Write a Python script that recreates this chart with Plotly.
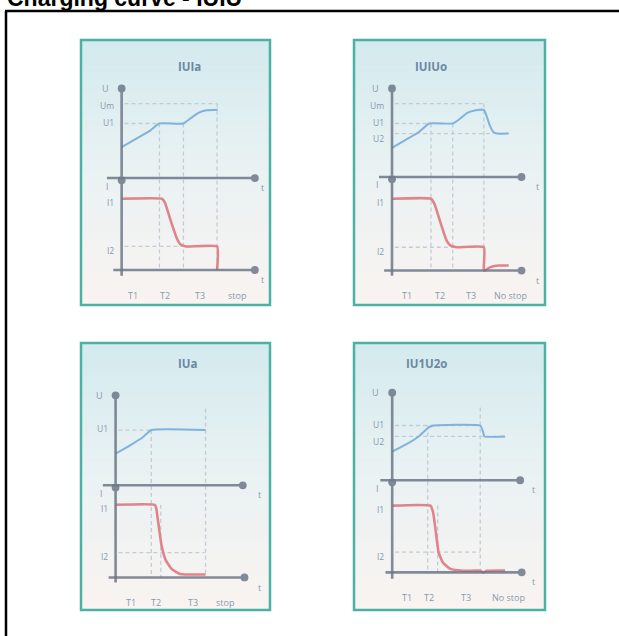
import plotly.graph_objects as go

W, H = 619, 636

# ---------------- data ----------------
fig_title = "Charging curve - IUIU"
panel_titles = ["IUIa", "IUIUo", "IUa", "IU1U2o"]

# voltage curves: time (t-units) and U (arbitrary units)
u_t = [
    [0, 0.78, 1.53, 1.99, 3.27, 3.68, 4.06, 4.49, 5.08],
    [0, 0.69, 1.41, 1.95, 3.18, 3.58, 3.94, 4.39, 4.81, 4.94, 5.12, 5.30, 5.48, 6.11],
    [0, 0.72, 1.44, 1.89, 4.76],
    [0, 0.70, 1.39, 1.91, 2.17, 4.61, 4.75, 4.83, 5.91],
]
u_v = [
    [11.7, 14.9, 18.0, 20.6, 20.6, 22.7, 24.6, 25.6, 25.8],
    [11.0, 13.9, 17.0, 20.2, 20.2, 22.1, 24.2, 25.2, 25.3, 23.3, 19.5, 17.0, 16.4, 16.4],
    [11.9, 14.8, 18.0, 20.7, 20.7],
    [10.7, 13.3, 16.4, 19.8, 20.5, 20.5, 18.3, 16.4, 16.4],
]
# current curves: time (t-units) and I (arbitrary units)
i_t = [
    [0, 2.13, 2.28, 2.62, 2.93, 3.12, 3.40, 5.05, 5.05],
    [0, 2.04, 2.22, 2.53, 2.86, 3.07, 3.40, 4.81, 4.81, 4.94, 5.12, 5.57, 6.11],
    [0, 2.07, 2.15, 2.22, 2.30, 2.43, 2.66, 2.96, 3.41, 4.76],
    [0, 2.00, 2.14, 2.31, 2.43, 2.66, 3.04, 3.74, 4.61, 4.78, 4.96, 5.91],
]
i_v = [
    [26.9, 26.9, 25.6, 18.1, 11.8, 9.6, 8.9, 8.9, 0],
    [27.1, 27.1, 25.2, 18.3, 11.3, 9.4, 8.8, 8.8, 0, 0.3, 1.2, 1.9, 1.9],
    [27.2, 27.2, 26.0, 22.5, 18.4, 12.0, 6.4, 3.2, 1.3, 1.1],
    [25.0, 25.0, 22.5, 13.7, 7.4, 3.6, 1.3, 0.6, 0.6, 0.0, 0.6, 0.7],
]
# voltage levels (name, value, end of dashed guide in t)
u_level_names = [["Um", "U1"], ["Um", "U1", "U2"], ["U1"], ["U1", "U2"]]
u_level_vals = [[28.1, 20.6], [27.7, 20.2, 16.4], [20.7], [20.5, 16.4]]
u_level_end = [[5.05, 2.0], [4.81, 2.04, 5.3], [1.89], [4.61, 5.91]]
# current levels
i_level_names = [["I1", "I2"]] * 4
i_level_vals = [[26.9, 8.9], [27.1, 8.8], [27.2, 9.3], [25.0, 7.6]]
i2_guide_end = [3.2, 4.81, 4.7, 4.61]
# phase boundaries (t) and the top of each dashed marker (axis, value)
vert_t = [[2.0, 3.27, 5.05], [2.04, 3.18, 4.81], [1.89, 2.39, 4.76], [1.86, 2.38, 4.61]]
vert_top = [
    [("U", 20.6), ("U", 20.6), ("U", 28.1)],
    [("U", 20.2), ("U", 20.2), ("U", 27.7)],
    [("U", 20.7), ("I", 27.2), ("U", 28.7)],
    [("U", 20.5), ("I", 25.0), ("U", 27.2)],
]
# time-axis tick labels
tick_text = [
    ["T1", "T2", "T3", "stop"],
    ["T1", "T2", "T3", "No stop"],
    ["T1", "T2", "T3", "stop"],
    ["T1", "T2", "T3", "No stop"],
]
tick_t = [[0.6, 2.3, 4.15, 6.1], [0.8, 2.5, 4.15, 6.2], [0.8, 2.13, 4.1, 5.8], [0.75, 1.95, 3.85, 6.1]]

# ---------------- geometry / style ----------------
geo = [
    dict(rect=(81, 40, 270, 305), ox=0.215, oyU=0.521, oyI=0.868, tu=(-0.86, 7.05), tl=(-0.52, 7.05), utop=33.8, ibot=-2.7, tlab=7.45, ty=0.064),
    dict(rect=(354, 40, 545, 305), ox=0.199, oyU=0.517, oyI=0.870, tu=(-0.76, 6.78), tl=(-0.49, 6.78), utop=33.4, ibot=-2.5, tlab=7.6, ty=0.064),
    dict(rect=(81, 343, 270, 610), ox=0.183, oyU=0.533, oyI=0.878, tu=(-0.75, 6.73), tl=(-0.45, 6.82), utop=33.7, ibot=-2.5, tlab=7.6, ty=0.075),
    dict(rect=(354, 343, 545, 610), ox=0.200, oyU=0.514, oyI=0.859, tu=(-0.70, 6.70), tl=(-0.43, 6.78), utop=32.8, ibot=-3.0, tlab=7.4, ty=0.075),
]
AXIS_COL = "rgba(110,120,136,0.85)"
LAB_COL = "#8799ae"
GUIDE_COL = "#c3ccd5"
BLUE = "#7fb2dc"
RED = "#e0848c"
TEAL = "#4ab1a4"
FONT = "Open Sans"
LAB_NUDGE = {"Um": -0.6, "U1": 0.4, "U2": -2.0}


def lerp(c1, c2, f):
    return tuple(int(round(a + (b - a) * f)) for a, b in zip(c1, c2))


TOP_C, MID_C, BOT_C = (211, 234, 238), (234, 242, 243), (249, 243, 241)

fig = go.Figure()
shapes, annos, axes = [], [], {}

for k in range(4):
    g = geo[k]
    px0, py0, px1, py1 = g["rect"]
    n = k + 1
    xa = "x" if n == 1 else f"x{n}"
    yun, yin = 2 * k + 1, 2 * k + 2
    yu = "y" if yun == 1 else f"y{yun}"
    yi = f"y{yin}"
    ox, oyU, oyI = g["ox"], g["oyU"], g["oyI"]
    off = (oyI - oyU) * 100  # I units -> U units offset

    axes["xaxis" if n == 1 else f"xaxis{n}"] = dict(
        domain=[px0 / W, px1 / W], range=[-ox * 10, (1 - ox) * 10], visible=False, anchor=yu)
    axes["yaxis" if yun == 1 else f"yaxis{yun}"] = dict(
        domain=[1 - py1 / H, 1 - py0 / H], range=[(oyU - 1) * 100, oyU * 100], visible=False, anchor=xa)
    axes[f"yaxis{yin}"] = dict(range=[(oyI - 1) * 100, oyI * 100], visible=False, overlaying=yu, anchor=xa)

    # gradient background
    nb = 40
    for b in range(nb):
        f = (b + 0.5) / nb
        c = lerp(TOP_C, MID_C, f / 0.5) if f < 0.5 else lerp(MID_C, BOT_C, (f - 0.5) / 0.5)
        ya = py0 + (py1 - py0) * b / nb
        yb = py0 + (py1 - py0) * (b + 1) / nb
        shapes.append(dict(type="rect", xref="paper", yref="paper", x0=px0 / W, x1=px1 / W,
                           y0=1 - yb / H - 0.0005, y1=1 - ya / H + 0.0005, line=dict(width=0),
                           fillcolor=f"rgb{c}", layer="below"))
    # border
    shapes.append(dict(type="rect", xref="paper", yref="paper", x0=px0 / W, x1=px1 / W,
                       y0=1 - py1 / H, y1=1 - py0 / H, line=dict(color=TEAL, width=2.5),
                       fillcolor="rgba(0,0,0,0)", layer="above"))

    guide = dict(color=GUIDE_COL, width=1.3, dash="4px,3px")
    # horizontal dashed guides
    for nm, v, e in zip(u_level_names[k], u_level_vals[k], u_level_end[k]):
        shapes.append(dict(type="line", xref=xa, yref=yu, x0=0.15, x1=e, y0=v, y1=v, line=guide, layer="below"))
        annos.append(dict(x=-0.3, y=v + LAB_NUDGE[nm], xref=xa, yref=yu, text=nm, showarrow=False, xanchor="right",
                          font=dict(size=8.5, color=LAB_COL, family=FONT)))
    iv = i_level_vals[k]
    shapes.append(dict(type="line", xref=xa, yref=yi, x0=0.15, x1=i2_guide_end[k], y0=iv[1], y1=iv[1],
                       line=guide, layer="below"))
    for nm, v in zip(i_level_names[k], iv):
        annos.append(dict(x=-0.3, y=v - 1.5, xref=xa, yref=yi, text=nm, showarrow=False, xanchor="right",
                          font=dict(size=8.5, color=LAB_COL, family=FONT)))
    # vertical phase markers
    for t, (axn, top) in zip(vert_t[k], vert_top[k]):
        ytop = top if axn == "U" else top - off
        shapes.append(dict(type="line", xref=xa, yref=yu, x0=t, x1=t, y0=ytop, y1=-off, line=guide, layer="below"))

    # curves
    fig.add_trace(go.Scatter(x=u_t[k], y=u_v[k], xaxis=xa, yaxis=yu, mode="lines",
                             line=dict(color=BLUE, width=2, shape="spline", smoothing=0.4),
                             hoverinfo="skip", showlegend=False))
    fig.add_trace(go.Scatter(x=i_t[k], y=i_v[k], xaxis=xa, yaxis=yi, mode="lines",
                             line=dict(color=RED, width=2.6, shape="spline", smoothing=0.4),
                             hoverinfo="skip", showlegend=False))

    # axes with dot heads
    arrow = dict(showarrow=True, arrowhead=6, arrowsize=0.75, arrowwidth=2.6, arrowcolor=AXIS_COL, text="",
                 standoff=0, startstandoff=0)
    annos.append(dict(arrow, x=g["tu"][1], y=0, ax=g["tu"][0], ay=0, xref=xa, yref=yu, axref=xa, ayref=yu))
    annos.append(dict(arrow, x=0, y=g["utop"], ax=0, ay=0, xref=xa, yref=yu, axref=xa, ayref=yu))
    annos.append(dict(arrow, x=g["tl"][1], y=0, ax=g["tl"][0], ay=0, xref=xa, yref=yi, axref=xa, ayref=yi))
    annos.append(dict(arrow, x=0, y=off - 0.8, ax=0, ay=g["ibot"], xref=xa, yref=yi, axref=xa, ayref=yi))

    lab = dict(showarrow=False, font=dict(size=9, color=LAB_COL, family=FONT))
    annos.append(dict(lab, x=-0.85, y=g["utop"], xref=xa, yref=yu, text="U"))
    annos.append(dict(lab, x=-0.75, y=-3.0, xref=xa, yref=yu, text="I"))
    annos.append(dict(lab, x=g["tlab"], y=-3.6, xref=xa, yref=yu, text="t"))
    annos.append(dict(lab, x=g["tlab"], y=-3.6, xref=xa, yref=yi, text="t"))
    for txt, t in zip(tick_text[k], tick_t[k]):
        annos.append(dict(lab, x=t, y=-9.5, xref=xa, yref=yi, text=txt))

    # panel title
    annos.append(dict(x=(px0 + 0.5 * (px1 - px0)) / W, y=1 - (py0 + g["ty"] * (py1 - py0)) / H,
                      xref="paper", yref="paper", text=f"<b>{panel_titles[k]}</b>", showarrow=False,
                      font=dict(size=11.5, color="#6d87a3", family=FONT)))

# outer frame
shapes.append(dict(type="line", xref="paper", yref="paper", x0=5 / W, x1=1, y0=1 - 11 / H, y1=1 - 11 / H,
                   line=dict(color="black", width=2.5)))
shapes.append(dict(type="line", xref="paper", yref="paper", x0=6 / W, x1=6 / W, y0=1 - 11 / H, y1=0,
                   line=dict(color="black", width=2.5)))
# figure title (cut off at the top edge)
annos.append(dict(x=5 / W, y=1 - 13 / H, xref="paper", yref="paper", xanchor="left", yanchor="bottom",
                  text=f"<b>{fig_title}</b>", showarrow=False,
                  font=dict(size=23, color="black", family="Liberation Sans")))

fig.update_layout(width=W, height=H, margin=dict(l=0, r=0, t=0, b=0), paper_bgcolor="white",
                  plot_bgcolor="rgba(0,0,0,0)", shapes=shapes, annotations=annos, showlegend=False, **axes)
fig.write_html("out.html", config={"displayModeBar": False, "staticPlot": True},
               post_script="document.body.style.margin='0';document.body.style.overflow='hidden';")
